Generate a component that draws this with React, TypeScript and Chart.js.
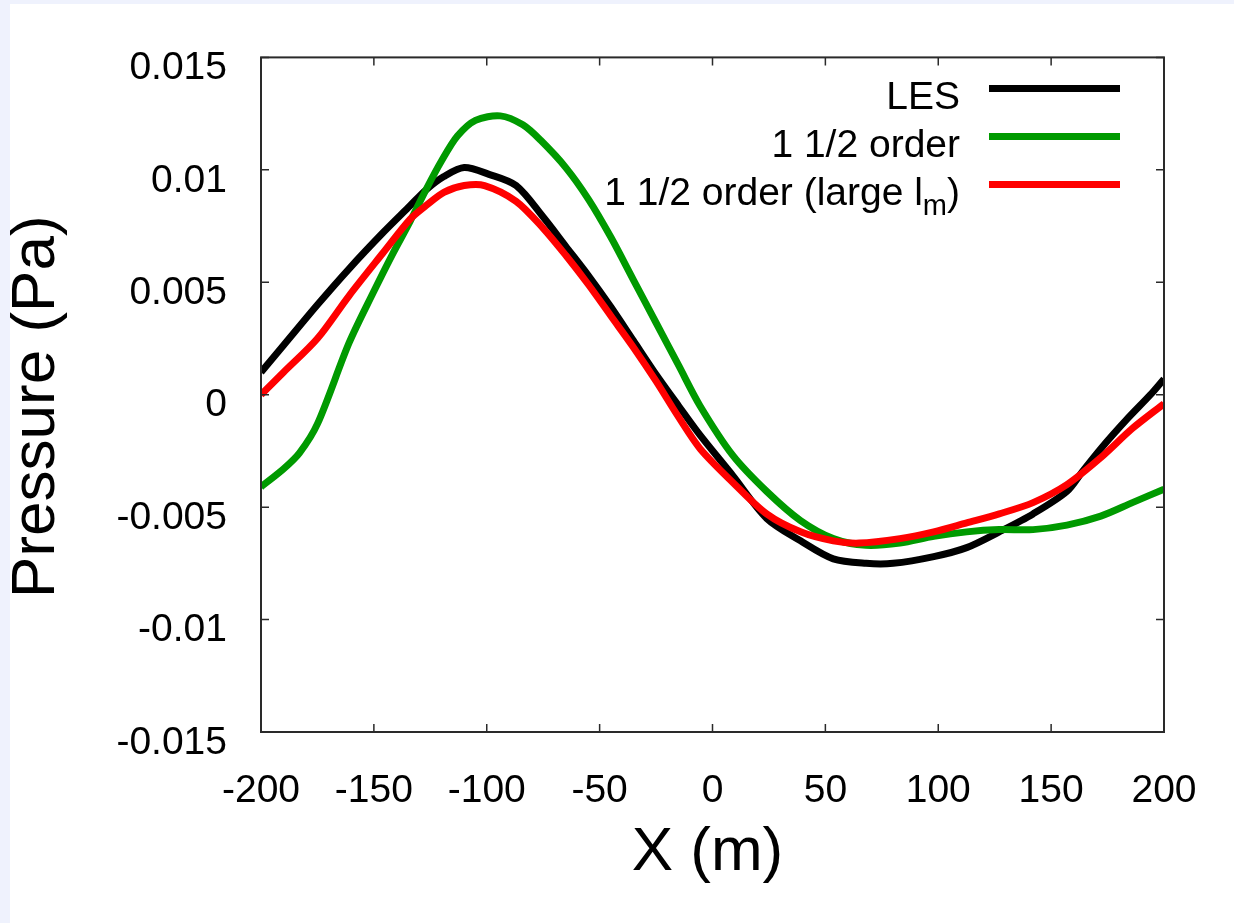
import React, { useEffect, useRef } from "react";
import { Chart, registerables } from "chart.js";

Chart.register(...registerables);

// ---- data ----
const xTicks = [-200, -150, -100, -50, 0, 50, 100, 150, 200];
const yTicks = [-0.015, -0.01, -0.005, 0, 0.005, 0.01, 0.015];

const seriesLabels = ["LES", "1 1/2 order", "1 1/2 order (large l_m)"];
const seriesColors = ["#000000", "#009a00", "#ff0000"];

const lesX = [-200, -190, -175, -161, -146, -134, -127, -119, -110, -99, -87, -75, -65, -55, -45, -35, -25, -15, -5.5, 9, 24, 39, 53.5, 68, 80, 98, 112.6, 127, 142, 157, 164, 172, 183.5, 194, 200];
const lesY = [0.001, 0.0022, 0.004, 0.0056, 0.0072, 0.0084, 0.0091, 0.0097, 0.0101, 0.0098, 0.0093, 0.0079, 0.0066, 0.0053, 0.0039, 0.0024, 0.0009, -0.0005, -0.0018, -0.0036, -0.0055, -0.0065, -0.0073, -0.0075, -0.0075, -0.0072, -0.0068, -0.0061, -0.0053, -0.0043, -0.0034, -0.0024, -0.0011, 0.0, 0.0007];

const halfX = [-200, -190, -183, -175, -161, -150, -142, -134, -127, -120, -113, -105, -94, -84, -76, -65, -55, -45, -35, -25, -15, -5.5, 9, 24, 39, 53.5, 68, 83, 98, 112.6, 127, 142, 157, 172, 186, 200];
const halfY = [-0.0041, -0.0033, -0.0026, -0.0013, 0.0023, 0.0046, 0.0062, 0.0077, 0.0091, 0.0104, 0.0115, 0.0122, 0.0124, 0.012, 0.0113, 0.0101, 0.0087, 0.007, 0.0051, 0.0032, 0.0013, -0.0005, -0.0027, -0.0043, -0.0056, -0.0064, -0.0067, -0.0066, -0.0063, -0.0061, -0.006, -0.006, -0.0058, -0.0054, -0.0048, -0.0042];

const largeX = [-200, -190, -175, -161, -146, -134, -127, -119, -110, -101, -87, -75, -65, -55, -45, -35, -25, -15, -5.5, 9, 24, 39, 53.5, 65, 83, 98, 112.6, 127, 142, 157, 172, 186, 200];
const largeY = [0.0, 0.001, 0.0025, 0.0044, 0.0063, 0.0078, 0.0084, 0.009, 0.0093, 0.0093, 0.0086, 0.0074, 0.0062, 0.0049, 0.0035, 0.0021, 0.0006, -0.001, -0.0024, -0.0039, -0.0053, -0.0061, -0.0065, -0.0066, -0.0064, -0.0061, -0.0057, -0.0053, -0.0048, -0.004, -0.0028, -0.0015, -0.0004];

const xTitle = "X (m)";
const yTitle = "Pressure (Pa)";

const FONT = '"Liberation Sans", Arial, Helvetica, sans-serif';

function toPoints(xs: number[], ys: number[]) {
  return xs.map((x, i) => ({ x, y: ys[i] }));
}

const decorPlugin = {
  id: "decor",
  afterDatasetsDraw(chart: any) {
    const { ctx, chartArea: a, scales } = chart;
    ctx.save();
    // inward ticks, mirrored
    const TL = 8;
    ctx.strokeStyle = "#2a2a2a";
    ctx.lineWidth = 1.5;
    ctx.beginPath();
    for (const v of xTicks) {
      const px = scales.x.getPixelForValue(v);
      ctx.moveTo(px, a.bottom);
      ctx.lineTo(px, a.bottom - TL);
      ctx.moveTo(px, a.top);
      ctx.lineTo(px, a.top + TL);
    }
    for (const v of yTicks) {
      const py = scales.y.getPixelForValue(v);
      ctx.moveTo(a.left, py);
      ctx.lineTo(a.left + TL, py);
      ctx.moveTo(a.right, py);
      ctx.lineTo(a.right - TL, py);
    }
    ctx.stroke();
    // frame
    ctx.lineWidth = 2;
    ctx.strokeRect(a.left, a.top, a.right - a.left, a.bottom - a.top);

    // legend
    const ds = chart.data.datasets;
    ctx.fillStyle = "#000";
    ctx.textBaseline = "alphabetic";
    ds.forEach((d: any, i: number) => {
      const ly = a.top + 31 + 48 * i;
      ctx.strokeStyle = d.borderColor;
      ctx.lineWidth = 7;
      ctx.beginPath();
      ctx.moveTo(a.right - 175, ly);
      ctx.lineTo(a.right - 44, ly);
      ctx.stroke();
      const label: string = d.label;
      const textRight = a.right - 204;
      const base = ly + 21;
      const mainFont = `39px ${FONT}`;
      const subFont = `29px ${FONT}`;
      const m = label.match(/^(.*)_(\w)(.*)$/);
      if (m) {
        ctx.font = mainFont;
        const w1 = ctx.measureText(m[1]).width;
        const w3 = ctx.measureText(m[3]).width;
        ctx.font = subFont;
        const w2 = ctx.measureText(m[2]).width;
        let x0 = textRight - (w1 + w2 + w3);
        ctx.textAlign = "left";
        ctx.font = mainFont;
        ctx.fillText(m[1], x0, base);
        x0 += w1;
        ctx.font = subFont;
        ctx.fillText(m[2], x0, base + 10);
        x0 += w2;
        ctx.font = mainFont;
        ctx.fillText(m[3], x0, base);
      } else {
        ctx.font = mainFont;
        ctx.textAlign = "right";
        ctx.fillText(label, textRight, base);
      }
    });

    // axis titles
    ctx.fillStyle = "#000";
    ctx.font = `62px ${FONT}`;
    ctx.textAlign = "center";
    ctx.textBaseline = "middle";
    ctx.fillText(xTitle, (a.left + a.right) / 2 - 5, a.bottom + 121);
    ctx.save();
    ctx.translate(37, (a.top + a.bottom) / 2 + 12);
    ctx.rotate(-Math.PI / 2);
    ctx.fillText(yTitle, 0, 0);
    ctx.restore();

    ctx.restore();
  },
};

export default function App() {
  const ref = useRef<HTMLCanvasElement | null>(null);

  useEffect(() => {
    if (!ref.current) return;
    const series = [
      { xs: lesX, ys: lesY },
      { xs: halfX, ys: halfY },
      { xs: largeX, ys: largeY },
    ];
    const chart = new Chart(ref.current, {
      type: "scatter",
      data: {
        datasets: series.map((s, i) => ({
          label: seriesLabels[i],
          data: toPoints(s.xs, s.ys),
          showLine: true,
          borderColor: seriesColors[i],
          backgroundColor: seriesColors[i],
          borderWidth: 7,
          pointRadius: 0,
          pointHoverRadius: 0,
          tension: 0.3,
          borderJoinStyle: "round",
          clip: 0,
          order: 3 - i,
        })),
      },
      options: {
        responsive: false,
        devicePixelRatio: 1,
        animation: false,
        events: [],
        layout: { padding: { left: 0, top: 53, right: 70, bottom: 0 } },
        plugins: {
          legend: { display: false },
          tooltip: { enabled: false },
          title: { display: false },
        },
        scales: {
          x: {
            type: "linear",
            min: -200,
            max: 200,
            afterBuildTicks: (s: any) => {
              s.ticks = xTicks.map((v) => ({ value: v }));
            },
            afterFit: (s: any) => {
              s.height = 191;
            },
            grid: { display: false, drawTicks: false },
            border: { display: false },
            ticks: {
              padding: 36,
              maxRotation: 0,
              autoSkip: false,
              color: "#000",
              font: { family: FONT, size: 39 },
              callback: (v: any) => String(v),
            },
          },
          y: {
            type: "linear",
            min: -0.015,
            max: 0.015,
            afterBuildTicks: (s: any) => {
              s.ticks = yTicks.map((v) => ({ value: v }));
            },
            afterFit: (s: any) => {
              s.width = 261;
            },
            grid: { display: false, drawTicks: false },
            border: { display: false },
            ticks: {
              padding: 34,
              labelOffset: 11,
              autoSkip: false,
              color: "#000",
              font: { family: FONT, size: 39 },
              callback: (v: any) => String(Number(Number(v).toFixed(4))),
            },
          },
        },
      },
      plugins: [decorPlugin],
    } as any);
    return () => chart.destroy();
  }, []);

  return (
    <div
      style={{
        position: "fixed",
        left: 0,
        top: 0,
        width: 1234,
        height: 923,
        background: "#eff2fd",
        overflow: "hidden",
      }}
    >
      <div
        style={{
          position: "absolute",
          left: 10,
          top: 4,
          right: 0,
          bottom: 0,
          background: "#ffffff",
        }}
      />
      <canvas
        ref={ref}
        width={1234}
        height={923}
        style={{ position: "absolute", left: 0, top: 0, width: 1234, height: 923 }}
      />
    </div>
  );
}
